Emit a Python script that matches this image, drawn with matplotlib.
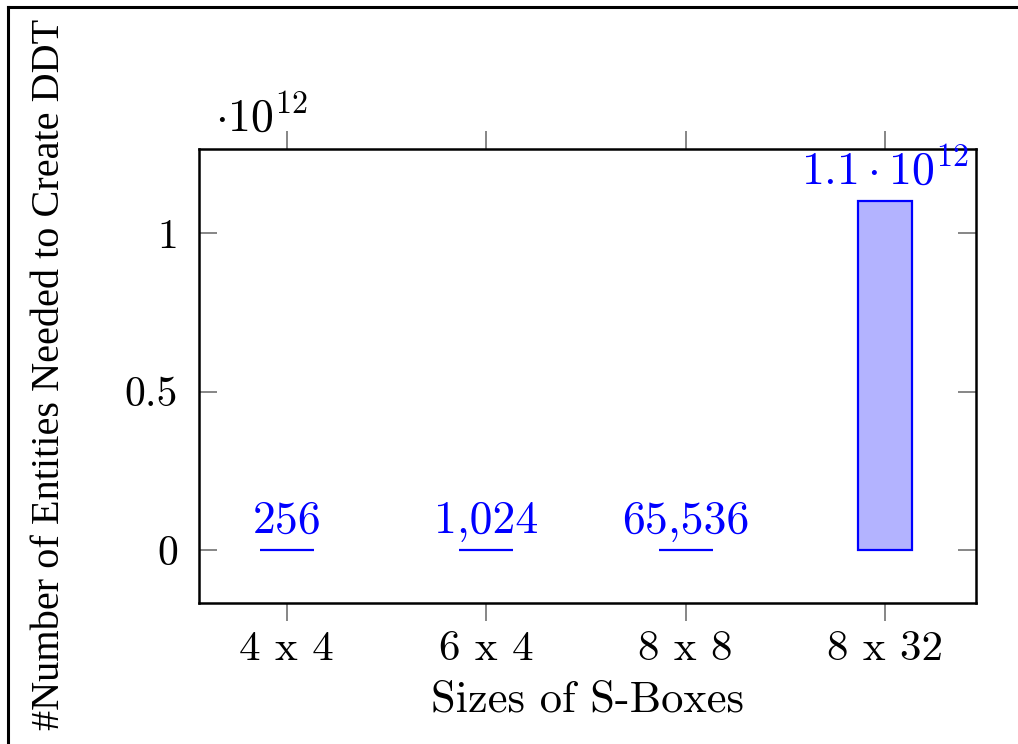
import matplotlib
matplotlib.use("Agg")
import matplotlib.pyplot as plt
from matplotlib.lines import Line2D
from matplotlib.ticker import FuncFormatter

sizes = ["4 x 4", "6 x 4", "8 x 8", "8 x 32"]
entities = [256, 1024, 65536, 1.1e12]
bar_labels = ["256", "1,024", "65,536", r"$1.1\cdot10^{12}$"]
y_ticks = [0, 0.5e12, 1e12]

plt.rcParams["font.family"] = "cmr10"
plt.rcParams["mathtext.fontset"] = "cm"
plt.rcParams["axes.formatter.use_mathtext"] = True

W, H = 1018, 744
fig = plt.figure(figsize=(W / 100, H / 100), dpi=100)
ax = fig.add_axes([199 / W, 141 / H, (976 - 199) / W, (603 - 149) / H])

x = range(len(sizes))
bars = ax.bar(x, entities, width=0.27, color="#b3b3ff", edgecolor="blue", linewidth=1.6)

for b, lab in zip(bars, bar_labels):
    ax.annotate(lab, (b.get_x() + b.get_width() / 2, b.get_height()),
                xytext=(0, 6), textcoords="offset points",
                ha="center", va="bottom", color="blue", fontsize=33)

ax.set_xlim(-0.44, 3.456)
ax.set_ylim(-0.167e12, 1.265e12)
ax.set_xticks(list(x))
ax.set_xticklabels(sizes, fontsize=31)
ax.set_yticks(y_ticks)
ax.yaxis.set_major_formatter(FuncFormatter(lambda v, p: f"{v / 1e12:g}"))
ax.tick_params(axis="y", direction="in", left=True, right=True, length=13,
               width=1.1, color="#666666", labelsize=30, pad=15)
ax.tick_params(axis="x", direction="out", top=True, bottom=True, length=13,
               width=1.1, color="#666666", pad=7)
for s in ax.spines.values():
    s.set_linewidth(1.8)

ax.set_xlabel("Sizes of S-Boxes", fontsize=32, labelpad=9)
ax.text(0.02, 1.02, r"$\cdot10^{12}$", transform=ax.transAxes, fontsize=33,
        ha="left", va="bottom")

fig.text(50 / W, 0.497, "#Number of Entities Needed to Create DDT", rotation=90,
         ha="center", va="center", fontsize=29, family="Liberation Serif")

# outer frame (only top and left edges visible)
fig.add_artist(Line2D([8 / W, 8 / W], [0, 1 - 7 / H], transform=fig.transFigure,
                      color="black", linewidth=2.2))
fig.add_artist(Line2D([8 / W, 1], [1 - 7 / H, 1 - 7 / H], transform=fig.transFigure,
                      color="black", linewidth=2.2))

fig.savefig("out.png", dpi=100)
